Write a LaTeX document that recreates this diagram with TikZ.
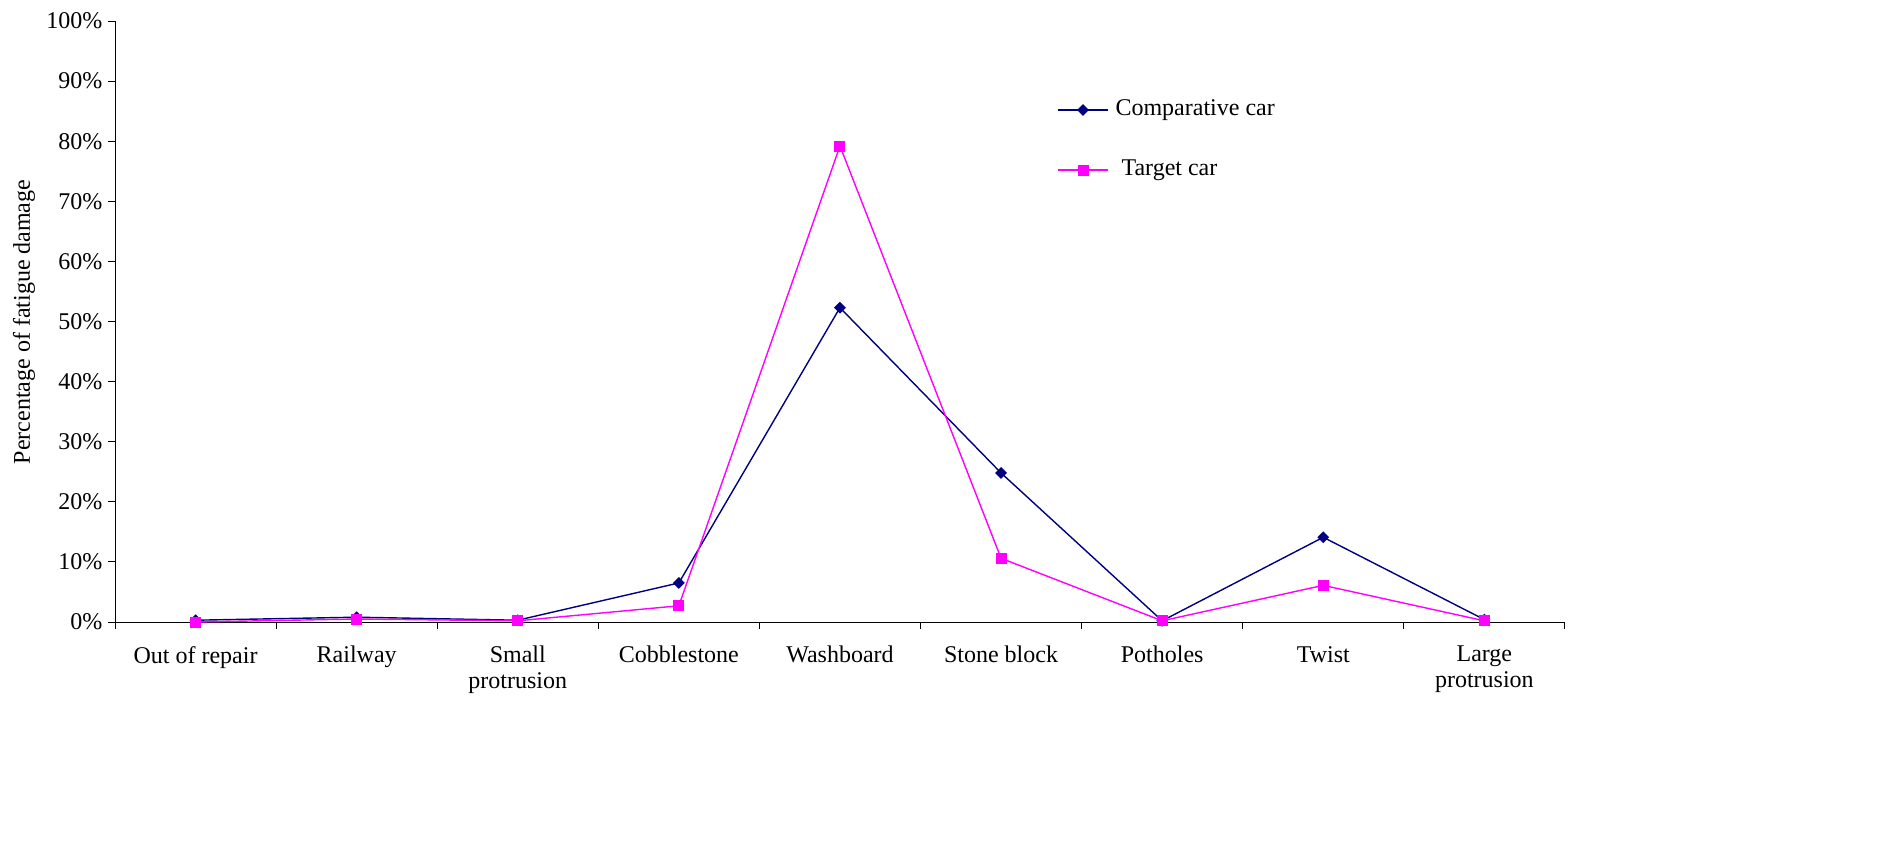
\documentclass[tikz,border=0pt]{standalone}
\usepackage{fontspec}
\setmainfont{Liberation Serif}
\usetikzlibrary{shapes.geometric}
\begin{document}
\begin{tikzpicture}[x=1pt,y=-1pt,
  lbl/.style={font=\fontsize{24}{26}\selectfont},
  cmp/.style={color={rgb,255:red,0;green,0;blue,128},line width=1.4pt},
  tgt/.style={color={rgb,255:red,255;green,0;blue,255},line width=1.4pt},
  dmark/.style={fill={rgb,255:red,0;green,0;blue,128},diamond,inner sep=0pt,minimum size=12pt,draw=none},
  smark/.style={fill={rgb,255:red,255;green,0;blue,255},rectangle,inner sep=0pt,minimum size=11pt,draw=none}]
\useasboundingbox (0,0) rectangle (1884,860);
\def\yz{622}\def\ys{6.01}
% axes
\draw[line width=1pt] (115,21) -- (115,\yz) -- (1565,\yz);
\foreach \i in {0,...,10}{
  \pgfmathsetmacro\yy{\yz-\i*60.1}
  \draw[line width=1pt] (108,\yy) -- (115,\yy);
  \node[lbl,anchor=east] (yl\i) at (106,\yy) {\pgfmathparse{int(\i*10)}\pgfmathresult\%};
}
\foreach \i in {0,...,9}{
  \pgfmathsetmacro\xx{115+\i*161.1}
  \draw[line width=1pt] (\xx,\yz) -- (\xx,\yz+7);
}
\node[lbl,rotate=90] (ytitle) at (24,322) {Percentage of fatigue damage};
\foreach \n [count=\i] in {Out of repair,Railway,{Small\\protrusion},Cobblestone,Washboard,Stone block,Potholes,Twist,{Large\\protrusion}}{
  \pgfmathsetmacro\xx{115+(\i-0.5)*161.1}
  \node[lbl,anchor=north,align=center,inner sep=0pt] (xl\i) at (\xx,646) {\n};
}
% data
\draw[cmp] plot coordinates {(195.55,{\yz-0.3*\ys}) (356.65,{\yz-0.8*\ys}) (517.75,{\yz-0.3*\ys}) (678.85,{\yz-6.5*\ys}) (839.95,{\yz-52.3*\ys}) (1001.05,{\yz-24.8*\ys}) (1162.15,{\yz-0.2*\ys}) (1323.25,{\yz-14.1*\ys}) (1484.35,{\yz-0.4*\ys})};
\draw[tgt] plot coordinates {(195.55,{\yz-0.0*\ys}) (356.65,{\yz-0.5*\ys}) (517.75,{\yz-0.2*\ys}) (678.85,{\yz-2.7*\ys}) (839.95,{\yz-79.2*\ys}) (1001.05,{\yz-10.6*\ys}) (1162.15,{\yz-0.2*\ys}) (1323.25,{\yz-6.1*\ys}) (1484.35,{\yz-0.2*\ys})};
\foreach \x/\v [count=\k] in {195.55/0.3,356.65/0.8,517.75/0.3,678.85/6.5,839.95/52.3,1001.05/24.8,1162.15/0.2,1323.25/14.1,1484.35/0.4}
  \node[dmark] (c\k) at (\x,{\yz-\v*\ys}) {};
\foreach \x/\v [count=\k] in {195.55/0.0,356.65/0.5,517.75/0.2,678.85/2.7,839.95/79.2,1001.05/10.6,1162.15/0.2,1323.25/6.1,1484.35/0.2}
  \node[smark] (t\k) at (\x,{\yz-\v*\ys}) {};
% legend
\coordinate (la1) at (1058,110); \coordinate (lb1) at (1108,110);
\draw[cmp] (la1) -- (lb1); \node[dmark] (lm1) at (1083,110) {};
\node[lbl,anchor=west] (lt1) at (1112,110) {Comparative car};
\coordinate (la2) at (1058,170); \coordinate (lb2) at (1108,170);
\draw[tgt] (la2) -- (lb2); \node[smark] (lm2) at (1083,170) {};
\node[lbl,anchor=west] (lt2) at (1118,170) {Target car};
\end{tikzpicture}
\end{document}
